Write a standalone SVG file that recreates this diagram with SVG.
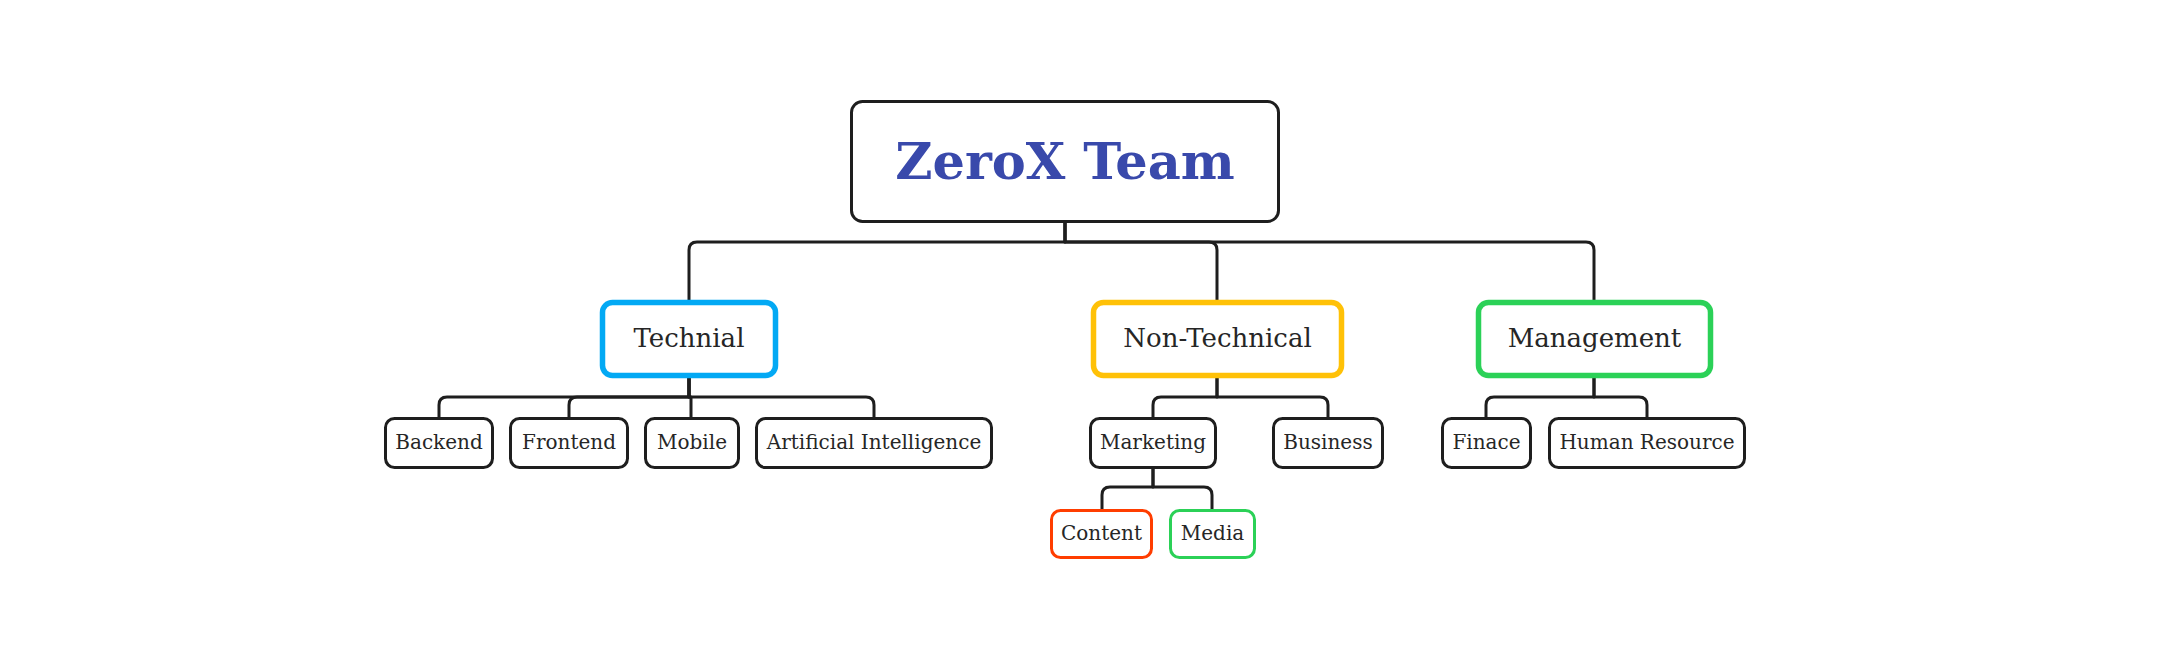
<svg xmlns="http://www.w3.org/2000/svg" width="2181" height="656" viewBox="0 0 2181 656">
<style>
.bg{fill:#ffffff}
.box{fill:#ffffff;stroke:#1e1e1e;stroke-width:3}
.grp{fill:#ffffff;stroke-width:5.5}
.conn{fill:none;stroke:#1e1e1e;stroke-width:3;stroke-linejoin:round}
text{font-family:"DejaVu Serif","Liberation Serif",serif;fill:#262626;text-anchor:middle}
.root{font-size:51px;font-weight:bold;fill:#3949ab}
.mid{font-size:26px}
.leaf{font-size:20px}
</style>
<rect class="bg" x="0" y="0" width="2181" height="656"/>
<g id="connectors">
<path class="conn" d="M1065 223 V242 H697 Q689 242 689 250 V302"/>
<path class="conn" d="M1065 223 V242 H1209 Q1217 242 1217 250 V302"/>
<path class="conn" d="M1065 223 V242 H1586 Q1594 242 1594 250 V302"/>
<path class="conn" d="M689 377 V397 H447 Q439 397 439 405 V418"/>
<path class="conn" d="M689 377 V397 H577 Q569 397 569 405 V418"/>
<path class="conn" d="M689 377 V397 H691 V418"/>
<path class="conn" d="M689 377 V397 H866 Q874 397 874 405 V418"/>
<path class="conn" d="M1217 377 V397 H1161 Q1153 397 1153 405 V418"/>
<path class="conn" d="M1217 377 V397 H1320 Q1328 397 1328 405 V418"/>
<path class="conn" d="M1153 467 V487 H1110 Q1102 487 1102 495 V510"/>
<path class="conn" d="M1153 467 V487 H1204 Q1212 487 1212 495 V510"/>
<path class="conn" d="M1594 377 V397 H1494 Q1486 397 1486 405 V418"/>
<path class="conn" d="M1594 377 V397 H1639 Q1647 397 1647 405 V418"/>
</g>
<g id="root"><rect class="box" x="851.5" y="101.5" width="427" height="120" rx="11"/><text class="root" x="1065" y="179">ZeroX Team</text></g>
<g id="technial"><rect class="grp" x="602.5" y="302.5" width="173" height="73" rx="10" style="stroke:#03a9f4"/><text class="mid" x="689" y="347">Technial</text></g>
<g id="non-technical"><rect class="grp" x="1093.5" y="302.5" width="248" height="73" rx="10" style="stroke:#ffc107"/><text class="mid" x="1217.5" y="347">Non-Technical</text></g>
<g id="management"><rect class="grp" x="1478.5" y="302.5" width="232" height="73" rx="10" style="stroke:#2bd157"/><text class="mid" x="1594.5" y="347">Management</text></g>
<g id="backend"><rect class="box" x="385.5" y="418.5" width="107" height="49" rx="9"/><text class="leaf" x="439" y="449">Backend</text></g>
<g id="frontend"><rect class="box" x="510.5" y="418.5" width="117" height="49" rx="9"/><text class="leaf" x="569" y="449">Frontend</text></g>
<g id="mobile"><rect class="box" x="645.5" y="418.5" width="93" height="49" rx="9"/><text class="leaf" x="692" y="449">Mobile</text></g>
<g id="ai"><rect class="box" x="756.5" y="418.5" width="235" height="49" rx="9"/><text class="leaf" x="874" y="449">Artificial Intelligence</text></g>
<g id="marketing"><rect class="box" x="1090.5" y="418.5" width="125" height="49" rx="9"/><text class="leaf" x="1153" y="449">Marketing</text></g>
<g id="business"><rect class="box" x="1273.5" y="418.5" width="109" height="49" rx="9"/><text class="leaf" x="1328" y="449">Business</text></g>
<g id="finace"><rect class="box" x="1442.5" y="418.5" width="88" height="49" rx="9"/><text class="leaf" x="1486.5" y="449">Finace</text></g>
<g id="human-resource"><rect class="box" x="1549.5" y="418.5" width="195" height="49" rx="9"/><text class="leaf" x="1647" y="449">Human Resource</text></g>
<g id="content"><rect class="box" x="1051.5" y="510.5" width="100" height="47" rx="9" style="stroke:#ff3d00"/><text class="leaf" x="1101.5" y="540">Content</text></g>
<g id="media"><rect class="box" x="1170.5" y="510.5" width="84" height="47" rx="9" style="stroke:#2bd157"/><text class="leaf" x="1212.5" y="540">Media</text></g>
</svg>
